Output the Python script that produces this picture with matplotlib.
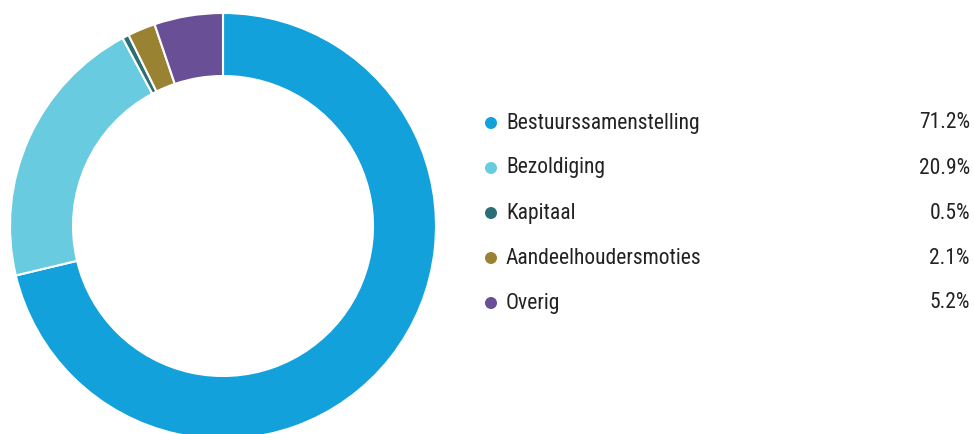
import matplotlib
matplotlib.use('Agg')
import matplotlib.pyplot as plt
from matplotlib.patches import Ellipse

labels = ['Bestuurssamenstelling', 'Bezoldiging', 'Kapitaal', 'Aandeelhoudersmoties', 'Overig']
values = [71.2, 20.9, 0.5, 2.1, 5.2]
colors = ['#12A1DB', '#68CBDF', '#2B6E78', '#9A8233', '#684F96']

plt.rcParams['font.family'] = ['Roboto Condensed', 'Roboto', 'DejaVu Sans']

W, H = 974, 434
fig = plt.figure(figsize=(W/100, H/100), dpi=100)

# donut: centre (223, 226) px from top, radius 213 px, ring 63 px
cx, cy, r = 223, 226, 213
ax = fig.add_axes([(cx-r)/W, (H-cy-r)/H, 2*r/W, 2*r/H])
ax.pie(values, colors=colors, startangle=90, counterclock=False, radius=1,
       wedgeprops=dict(width=63/213, edgecolor='white', linewidth=1.5))
ax.set_xlim(-1, 1)
ax.set_ylim(-1, 1)
ax.set_aspect('equal')
ax.axis('off')

# legend
y0, dy = 123, 45
for i, (lab, val, col) in enumerate(zip(labels, values, colors)):
    y = 1 - (y0 + i*dy)/H
    fig.patches.append(Ellipse((491/W, y), 12/W, 12/H, transform=fig.transFigure,
                               facecolor=col, edgecolor='none'))
    fig.text(506/W, y, lab, fontsize=15.5, color='#222222', va='center', ha='left')
    fig.text(970/W, y, f'{val:.1f}%', fontsize=15.5, color='#222222', va='center', ha='right')

plt.savefig('out.png', dpi=100)
